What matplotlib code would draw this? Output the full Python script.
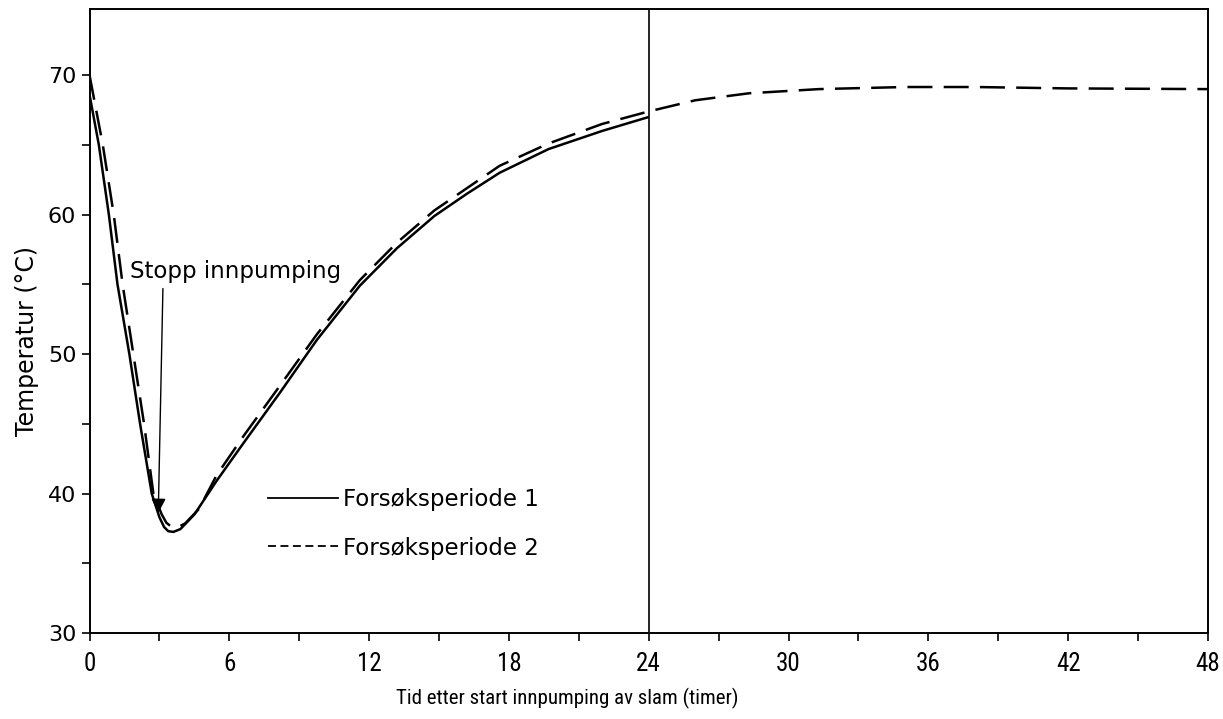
import matplotlib
matplotlib.use("Agg")
import matplotlib.pyplot as plt
from matplotlib import font_manager
from matplotlib.lines import Line2D
from matplotlib.ticker import MultipleLocator

# Forsøksperiode 1 (heltrukken), 0-24 timer
t1 = [0, 0.4, 0.83, 1.2, 1.71, 2.17, 2.67, 3.0, 3.2, 3.38, 3.6, 3.9, 4.5, 5.45, 6.6,
      8.2, 9.75, 11.6, 13.2, 14.8, 16.2, 17.6, 19.7, 22.0, 24.0]
temp1 = [68.6, 65.0, 60.0, 55.0, 50.0, 45.0, 40.0, 38.3, 37.6, 37.3, 37.25, 37.45, 38.5, 40.9, 43.6,
         47.3, 51.0, 54.9, 57.6, 59.9, 61.5, 63.0, 64.7, 66.0, 67.0]

# Forsøksperiode 2 (stiplet), 0-48 timer
t2 = [0, 0.57, 1.04, 1.42, 1.88, 2.34, 2.74, 3.1, 3.3, 3.53, 3.8, 4.1, 4.7, 5.45, 6.6,
      8.2, 9.75, 11.6, 13.2, 14.8, 16.2, 17.6, 19.7, 22.0, 24.0, 26.0, 28.3,
      31.3, 35.0, 38.0, 42.0, 48.0]
temp2 = [70.0, 65.0, 60.0, 55.0, 50.0, 45.0, 40.0, 38.5, 37.9, 37.6, 37.6, 37.85, 38.9, 41.3, 44.1,
         47.8, 51.4, 55.3, 58.0, 60.3, 61.9, 63.5, 65.1, 66.5, 67.4, 68.2, 68.7,
         69.0, 69.15, 69.15, 69.05, 69.0]

labels = ["Forsøksperiode 1", "Forsøksperiode 2"]
stop_text = "Stopp innpumping"
stop_arrow_from = (3.15, 54.7)
stop_arrow_to = (2.95, 38.6)

x_major = [0, 6, 12, 18, 24, 30, 36, 42, 48]
y_major = [30, 40, 50, 60, 70]

# condensed face for the x axis, if one is installed
names = {f.name for f in font_manager.fontManager.ttflist}
narrow = None
for cand in ["Liberation Sans Narrow", "Roboto Condensed", "Open Sans Condensed"]:
    if cand in names:
        narrow = cand
        break
narrow_kw = dict(family=[narrow, "DejaVu Sans"]) if narrow else dict(family="DejaVu Sans", stretch="condensed")

plt.rcParams["font.family"] = ["DejaVu Sans"]

fig = plt.figure(figsize=(12.23, 7.19), dpi=100)
ax = fig.add_axes([0.0732, 0.1196, 0.9145, 0.868])

ax.plot(t1, temp1, color="black", lw=1.8, solid_capstyle="butt")
ax.plot(t2, temp2, color="black", lw=1.8, ls=(0, (10, 4.5)))
ax.axvline(24, color="black", lw=1.2)

ax.annotate("", xy=stop_arrow_to, xytext=stop_arrow_from,
            arrowprops=dict(arrowstyle="-|>", color="black", lw=1.0,
                            mutation_scale=22, shrinkA=0, shrinkB=0))
ax.text(1.74, 55.45, stop_text, fontsize=16.5, ha="left", va="baseline")

ax.set_xlim(0, 48)
ax.set_ylim(30, 74.75)
ax.set_xticks(x_major)
ax.set_yticks(y_major)
ax.xaxis.set_minor_locator(MultipleLocator(3))
ax.yaxis.set_minor_locator(MultipleLocator(5))
ax.tick_params(which="both", direction="out", length=6, width=1.2)
ax.tick_params(axis="y", labelsize=16, pad=3.5)
ax.tick_params(axis="x", labelsize=18, pad=8)
for lab in ax.get_xticklabels():
    lab.set(**narrow_kw)

for sp in ax.spines.values():
    sp.set_linewidth(1.4)

ax.set_xlabel("Tid etter start innpumping av slam (timer)", fontsize=15,
              x=0.427, labelpad=8, **narrow_kw)
ax.set_ylabel("Temperatur (°C)", fontsize=17, y=0.468, labelpad=6)

handles = [Line2D([], [], color="black", lw=1.3),
           Line2D([], [], color="black", lw=1.3, ls=(0, (4.4, 2.5)))]
ax.legend(handles, labels, loc="upper left", bbox_to_anchor=(0.1596, 0.2326),
          frameon=False, fontsize=16.5, handlelength=3.05, handletextpad=0.2,
          labelspacing=1.12, borderpad=0, borderaxespad=0)

fig.savefig("out.png", dpi=100)
plt.close(fig)
